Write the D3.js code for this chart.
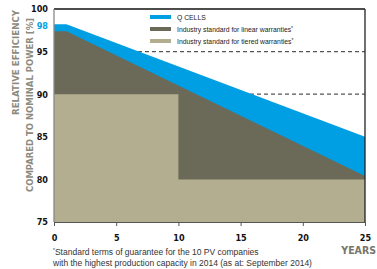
<!DOCTYPE html>
<html><head><meta charset="utf-8">
<script src="https://cdn.jsdelivr.net/npm/d3@7"></script>
<style>
body{margin:0;background:#fff;}
svg{display:block;}
</style></head>
<body><svg id="c" width="377" height="269"></svg>
<script>
const qcellsYears = [0, 1, 25];
const qcellsValues = [98.2, 98.2, 85];
const linearYears = [0, 1, 25];
const linearValues = [97.4, 97.4, 80.4];
const tieredYears = [0, 10, 10, 25];
const tieredValues = [90, 90, 80, 80];
const dashedLevels = [95, 90];
const xTicks = [0, 5, 10, 15, 20, 25];
const yTicks = [75, 80, 85, 90, 95, 98, 100];
const legendLabels = ["Q CELLS", "Industry standard for linear warranties", "Industry standard for tiered warranties"];

const colors = {q: "#009fe3", lin: "#6b6a58", tier: "#b3ae8f"};
const condensed = "'DejaVu Sans Condensed','Liberation Sans Narrow',sans-serif";
const svg = d3.select("#c");
const x = d3.scaleLinear().domain([0, 25]).range([54, 365]);
const y = d3.scaleLinear().domain([75, 100]).range([222, 9]);

// dashed reference lines (drawn beneath areas)
svg.selectAll(".dash").data(dashedLevels).enter().append("line")
  .attr("x1", x(0)).attr("x2", x(25))
  .attr("y1", d => y(d)).attr("y2", d => y(d))
  .attr("stroke", "#555").attr("stroke-width", 1.2).attr("stroke-dasharray", "4,3");

function areaOf(xs, vs, col) {
  const pts = xs.map((d, i) => [d, vs[i]]);
  const a = d3.area().x(d => x(d[0])).y0(y(75)).y1(d => y(d[1]));
  svg.append("path").datum(pts).attr("d", a).attr("fill", col);
}
areaOf(qcellsYears, qcellsValues, colors.q);
areaOf(linearYears, linearValues, colors.lin);
areaOf(tieredYears, tieredValues, colors.tier);

// frame
svg.append("line").attr("x1", x(0)).attr("x2", x(25)).attr("y1", y(100)).attr("y2", y(100)).attr("stroke", "#111").attr("stroke-width", 1.5);
svg.append("line").attr("x1", x(25)).attr("x2", x(25)).attr("y1", y(100)).attr("y2", y(75)).attr("stroke", "#222").attr("stroke-width", 1.3);
svg.append("line").attr("x1", x(0)).attr("x2", x(0)).attr("y1", y(100)).attr("y2", y(75)).attr("stroke", "#888").attr("stroke-width", 1.3);

// x axis
const xa = svg.append("g").attr("transform", `translate(0,${y(75)})`)
  .call(d3.axisBottom(x).tickValues(xTicks).tickSize(4).tickPadding(9).tickFormat(d3.format("d")));
xa.select(".domain").attr("stroke", "#555");
xa.selectAll(".tick line").attr("stroke", "#555");
xa.selectAll("text").attr("font-family", condensed)
  .attr("font-weight", "bold").attr("font-size", 9).attr("fill", "#111");

// y axis labels
const ya = svg.append("g").attr("transform", `translate(${x(0)},0)`)
  .call(d3.axisLeft(y).tickValues(yTicks).tickSize(0).tickPadding(6));
ya.select(".domain").remove();
ya.selectAll("text").attr("font-family", condensed)
  .attr("font-weight", "bold").attr("font-size", 9)
  .attr("fill", d => d === 98 ? colors.q : "#111");

// y title
const yt = svg.append("text").attr("transform", "rotate(-90)")
  .attr("text-anchor", "start").attr("font-family", condensed)
  .attr("font-weight", "bold").attr("font-size", 9.4).attr("fill", "#8c8b7d");
yt.append("tspan").attr("x", -115).attr("y", 19).attr("textLength", 105).attr("lengthAdjust", "spacingAndGlyphs").text("RELATIVE EFFICIENCY");
yt.append("tspan").attr("x", -192).attr("y", 33).attr("textLength", 174).attr("lengthAdjust", "spacingAndGlyphs").text("COMPARED TO NOMINAL POWER [%]");

// x title
svg.append("text").attr("x", 376).attr("y", 254).attr("text-anchor", "end")
  .attr("font-family", condensed)
  .attr("font-weight", "bold").attr("font-size", 10.5).attr("fill", "#77766a").text("YEARS");

// legend
const lg = svg.append("g");
const legCols = [colors.q, colors.lin, colors.tier];
legendLabels.forEach((t, i) => {
  const yy = 17 + i * 12;
  lg.append("rect").attr("x", 150).attr("y", yy - 2).attr("width", 21).attr("height", 4).attr("fill", legCols[i]);
  const tx = lg.append("text").attr("x", 177).attr("y", yy + 3)
    .attr("font-family", "'Liberation Sans',Arial,sans-serif").attr("font-size", 6.8).attr("fill", "#222").text(t);
  if (i > 0) tx.append("tspan").attr("dy", -2.5).attr("font-size", 5).text("*");
});

// footnote
const fn = svg.append("g").attr("font-family", "'Liberation Sans',Arial,sans-serif").attr("font-size", 8.5).attr("fill", "#333");
const f1 = fn.append("text").attr("x", 53).attr("y", 255);
f1.append("tspan").attr("font-size", 5).attr("dy", -3).text("*");
f1.append("tspan").attr("dy", 3).text("Standard terms of guarantee for the 10 PV companies");
fn.append("text").attr("x", 53).attr("y", 266).text("with the highest production capacity in 2014 (as at: September 2014)");
</script></body></html>
